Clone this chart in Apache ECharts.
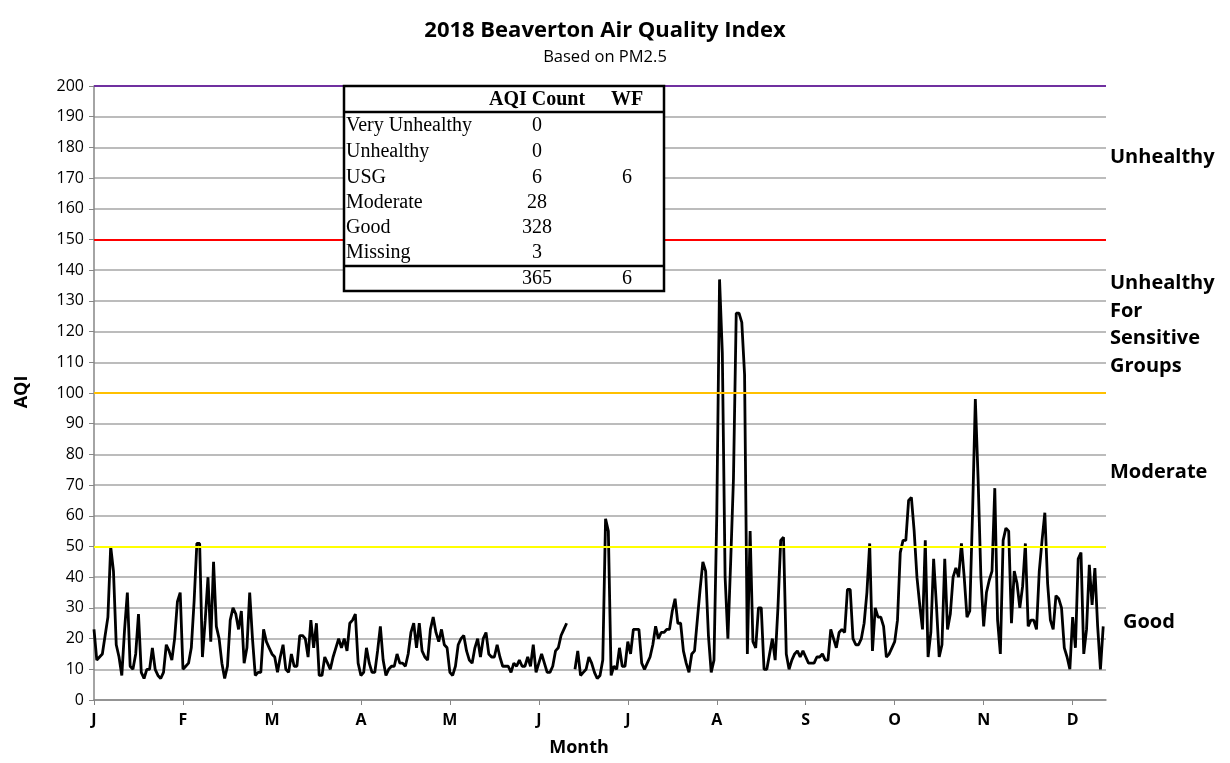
<!DOCTYPE html>
<html>
<head>
<meta charset="utf-8">
<title>2018 Beaverton Air Quality Index</title>
<script src="https://cdn.jsdelivr.net/npm/echarts@6/dist/echarts.min.js"></script>
<style>
  html, body { margin: 0; padding: 0; background: #fff; }
  #chart { width: 1230px; height: 763px; }
</style>
</head>
<body>
<div id="chart"></div>
<script>
// tick labels, one every 32 days
const monthLabels = ['J', 'F', 'M', 'A', 'M', 'J', 'J', 'A', 'S', 'O', 'N', 'D']
const daysPerLabel = 32

// daily AQI (PM2.5), null = missing day
const aqi = [
  23, 13, 14, 15, 21, 27, 50, 42, 18, 14,
  8, 23, 35, 11, 10, 15, 28, 9, 7, 10,
  10, 17, 10, 8, 7, 9, 18, 16, 13, 20,
  32, 35, 10, 11, 12, 17, 32, 51, 51, 14,
  26, 40, 19, 45, 24, 20, 12, 7, 11, 26,
  30, 28, 23, 29, 12, 17, 35, 20, 8, 9,
  9, 23, 19, 17, 15, 14, 9, 14, 18, 10,
  9, 15, 11, 11, 21, 21, 20, 14, 26, 17,
  25, 8, 8, 14, 12, 10, 14, 17, 20, 17,
  20, 16, 25, 26, 28, 12, 8, 9, 17, 12,
  9, 9, 16, 24, 13, 8, 10, 11, 11, 15,
  12, 12, 11, 15, 22, 25, 17, 25, 16, 14,
  13, 23, 27, 22, 19, 23, 18, 17, 9, 8,
  11, 18, 20, 21, 16, 13, 12, 17, 20, 14,
  20, 22, 15, 14, 14, 18, 14, 11, 11, 11,
  9, 12, 11, 13, 11, 11, 14, 11, 18, 9,
  12, 15, 12, 9, 9, 11, 16, 17, 21, 23,
  25, null, null, 10, 16, 8, 9, 10, 14, 12,
  9, 7, 8, 13, 59, 55, 8, 11, 10, 17,
  11, 11, 19, 15, 23, 23, 23, 12, 10, 12,
  14, 18, 24, 20, 22, 22, 23, 23, 29, 33,
  25, 25, 16, 12, 9, 15, 16, 26, 36, 45,
  42, 21, 9, 13, 60, 137, 113, 40, 20, 45,
  72, 126, 126, 123, 106, 15, 55, 19, 17, 30,
  30, 10, 10, 15, 20, 13, 30, 52, 53, 15,
  10, 13, 15, 16, 14, 16, 14, 12, 12, 12,
  14, 14, 15, 13, 13, 23, 20, 17, 22, 23,
  22, 36, 36, 20, 18, 18, 20, 25, 35, 51,
  16, 30, 27, 27, 24, 14, 15, 17, 19, 26,
  48, 52, 52, 65, 66, 55, 40, 31, 23, 52,
  14, 22, 46, 31, 14, 18, 46, 23, 28, 40,
  43, 40, 51, 40, 27, 29, 61, 98, 72, 40,
  24, 35, 39, 42, 69, 26, 15, 52, 56, 55,
  25, 42, 38, 30, 37, 51, 24, 26, 26, 23,
  42, 52, 61, 38, 26, 23, 34, 33, 30, 17,
  14, 10, 27, 17, 46, 48, 15, 23, 44, 31,
  43, 24, 10, 24, null
]

// AQI category breakpoints
const thresholds = [50, 100, 150, 200]
const thresholdColors = ['#ffff00', '#ffc000', '#ff0000', '#7030a0']

// category names on the right
const bandNames = ['Unhealthy', 'Unhealthy\nFor\nSensitive\nGroups', 'Moderate', 'Good']

// summary table
const tableRows = ['Very Unhealthy', 'Unhealthy', 'USG', 'Moderate', 'Good', 'Missing']
const aqiCounts = [0, 0, 6, 28, 328, 3]
const wfCounts = ['', '', 6, '', '', '']
const totalCount = 365
const totalWf = 6

const chart = echarts.init(document.getElementById('chart'))

const days = aqi.map((_, i) => i)
const isTick = (idx) => idx % daysPerLabel === 0

const sansFont = '"Open Sans", sans-serif'
const serifFont = '"Liberation Serif", "Times New Roman", serif'

// 表格
const buildTable = () => {
  const left = 344, top = 86, width = 320, height = 205
  const colCount = 537, colWf = 627
  const rowY = [126, 152, 178, 203, 228, 253]
  const txt = (text, x, y, bold, align) => ({
    type: 'text',
    style: { text, x, y, font: (bold ? 'bold ' : '') + '20px ' + serifFont, textAlign: align, textVerticalAlign: 'middle', fill: '#000' }
  })
  const els = [
    { type: 'rect', shape: { x: left, y: top, width, height }, style: { fill: '#fff', stroke: '#000', lineWidth: 2.5 } },
    { type: 'line', shape: { x1: left, y1: 112, x2: left + width, y2: 112 }, style: { stroke: '#000', lineWidth: 2.5 } },
    { type: 'line', shape: { x1: left, y1: 266, x2: left + width, y2: 266 }, style: { stroke: '#000', lineWidth: 2.5 } },
    txt('AQI Count', colCount, 100, true, 'center'),
    txt('WF', colWf, 100, true, 'center')
  ]
  tableRows.forEach((name, i) => {
    els.push(txt(name, left + 2, rowY[i], false, 'left'))
    els.push(txt(String(aqiCounts[i]), colCount, rowY[i], false, 'center'))
    els.push(txt(String(wfCounts[i]), colWf, rowY[i], false, 'center'))
  })
  els.push(txt(String(totalCount), colCount, 279, false, 'center'))
  els.push(txt(String(totalWf), colWf, 279, false, 'center'))
  return els.map(e => Object.assign(e, { z: 100 }))
}

const bandPos = [[1110, 157], [1110, 325], [1110, 472], [1123, 622]]
const bandLabels = bandNames.map((name, i) => ({
  type: 'text',
  z: 100,
  style: {
    text: name,
    x: bandPos[i][0],
    y: bandPos[i][1],
    font: 'bold 20px ' + sansFont,
    lineHeight: 27.5,
    textAlign: 'left',
    textVerticalAlign: 'middle',
    fill: '#000'
  }
}))

const option = {
  animation: false,
  backgroundColor: '#fff',
  title: {
    text: '2018 Beaverton Air Quality Index',
    subtext: 'Based on PM2.5',
    left: 600,
    textAlign: 'center',
    top: 15,
    itemGap: 7,
    textStyle: { fontFamily: sansFont, fontWeight: 'bold', fontSize: 22, color: '#000' },
    subtextStyle: { fontFamily: sansFont, fontSize: 16.5, color: '#000' }
  },
  grid: { left: 94, right: 124, top: 86, bottom: 63 },
  xAxis: {
    type: 'category',
    data: days,
    boundaryGap: false,
    axisLine: { lineStyle: { color: '#868686', width: 1.5 } },
    axisTick: { interval: isTick, length: 5, lineStyle: { color: '#868686' } },
    axisLabel: {
      interval: isTick,
      formatter: (v) => monthLabels[Number(v) / daysPerLabel] || '',
      fontFamily: sansFont,
      fontWeight: 'bold',
      fontSize: 16,
      color: '#000',
      margin: 12
    },
    splitLine: { show: false }
  },
  yAxis: {
    type: 'value',
    min: 0,
    max: 200,
    interval: 10,
    axisLine: { show: true, lineStyle: { color: '#868686', width: 1.5 } },
    axisTick: { show: true, length: 5, lineStyle: { color: '#868686' } },
    axisLabel: { fontFamily: sansFont, fontSize: 16, color: '#000', margin: 10 },
    splitLine: { lineStyle: { color: '#a6a6a6', width: 1.5 } }
  },
  graphic: [
    { type: 'text', x: 22, y: 392, rotation: Math.PI / 2, z: 100,
      style: { text: 'AQI', font: 'bold 18px ' + sansFont, textAlign: 'center', textVerticalAlign: 'middle', fill: '#000' } },
    { type: 'text', z: 100,
      style: { text: 'Month', x: 579, y: 748, font: 'bold 18px ' + sansFont, textAlign: 'center', textVerticalAlign: 'middle', fill: '#000' } },
    ...bandLabels,
    ...buildTable()
  ],
  series: [
    {
      name: 'AQI',
      type: 'line',
      data: aqi,
      showSymbol: false,
      connectNulls: false,
      lineStyle: { color: '#000', width: 2.8 },
      z: 3,
      markLine: {
        silent: true,
        symbol: 'none',
        label: { show: false },
        data: thresholds.map((t, i) => ({
          yAxis: t,
          lineStyle: { color: thresholdColors[i], width: 2, type: 'solid' }
        }))
      }
    }
  ]
}

chart.setOption(option)
window.addEventListener('resize', () => chart.resize())
</script>
</body>
</html>
